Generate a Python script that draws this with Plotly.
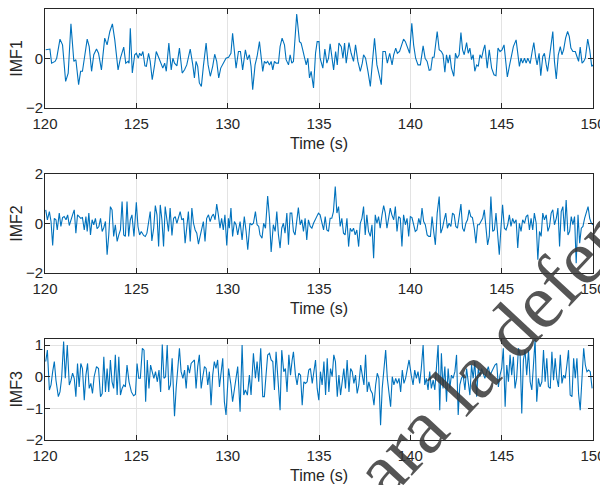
import plotly.graph_objects as go
from plotly.subplots import make_subplots

# ---------------- data ----------------
t1 = [120.04, 120.27, 120.36, 120.55, 120.64, 120.82, 120.96, 121.13, 121.27, 121.42, 121.58, 121.69, 121.84, 121.95,
      122.05, 122.24, 122.31, 122.42, 122.55, 122.67, 122.82, 122.93, 123.09, 123.27, 123.40, 123.55, 123.69, 123.82,
      124.00, 124.13, 124.31, 124.42, 124.55, 124.60, 124.67, 124.78, 124.91, 125.00, 125.11, 125.18, 125.27, 125.36,
      125.47, 125.55, 125.67, 125.76, 125.87, 126.00, 126.09, 126.24, 126.33, 126.45, 126.55, 126.64, 126.78, 126.91,
      127.00, 127.09, 127.22, 127.36, 127.51, 127.64, 127.76, 127.95, 128.09, 128.18, 128.27, 128.36, 128.45, 128.56,
      128.67, 128.82, 128.93, 129.05, 129.18, 129.29, 129.40, 129.51, 129.62, 129.76, 129.91, 130.05, 130.18, 130.27,
      130.37, 130.46, 130.59, 130.70, 130.82, 130.97, 131.08, 131.19, 131.28, 131.37, 131.50, 131.61, 131.74, 131.83,
      131.92, 132.01, 132.10, 132.19, 132.29, 132.38, 132.47, 132.56, 132.65, 132.78, 132.87, 132.98, 133.11, 133.20,
      133.33, 133.42, 133.51, 133.60, 133.78, 133.93, 134.02, 134.11, 134.20, 134.30, 134.39, 134.48, 134.57, 134.70,
      134.81, 134.90, 135.00, 135.06, 135.21, 135.32, 135.43, 135.52, 135.61, 135.72, 135.80, 135.91, 136.00, 136.09,
      136.22, 136.31, 136.40, 136.49, 136.64, 136.76, 136.89, 137.00, 137.13, 137.26, 137.37, 137.44, 137.55, 137.68,
      137.81, 137.92, 138.04, 138.17, 138.28, 138.41, 138.50, 138.63, 138.74, 138.87, 139.00, 139.09, 139.20, 139.29,
      139.41, 139.51, 139.63, 139.73, 139.84, 139.96, 140.08, 140.18, 140.29, 140.42, 140.55, 140.70, 140.81, 140.92,
      141.03, 141.12, 141.21, 141.30, 141.47, 141.58, 141.70, 141.79, 141.89, 141.98, 142.07, 142.16, 142.25, 142.38,
      142.47, 142.56, 142.67, 142.77, 142.86, 142.95, 143.08, 143.17, 143.26, 143.35, 143.44, 143.53, 143.63, 143.72,
      143.81, 143.90, 144.00, 144.08, 144.21, 144.32, 144.45, 144.58, 144.69, 144.80, 144.91, 145.02, 145.13, 145.24,
      145.31, 145.42, 145.55, 145.64, 145.79, 145.88, 145.97, 146.06, 146.15, 146.25, 146.34, 146.43, 146.56, 146.67,
      146.76, 146.87, 146.94, 147.05, 147.14, 147.25, 147.34, 147.44, 147.51, 147.62, 147.69, 147.80, 147.89, 147.99,
      148.10, 148.21, 148.30, 148.39, 148.50, 148.61, 148.70, 148.79, 148.90, 149.03, 149.12, 149.21, 149.30, 149.40,
      149.49, 149.58, 149.71, 149.82, 149.93, 150.00]
imf1 = [0.35, 0.38, -0.19, -0.12, 0.01, 0.78, 0.55, -0.93, -0.59, 1.40, -0.12, -0.05, -1.06, -0.52,
        -0.52, 0.55, 0.78, 0.48, -0.52, 0.15, 0.38, 0.21, -0.46, 0.82, 0.55, 1.09, 1.40, 0.75,
        -0.46, 0.01, 0.46, -0.19, -0.12, -0.19, 1.22, -0.59, 0.15, 0.21, 0.01, 0.21, 0.11, 0.28,
        -0.30, -0.32, 0.21, -0.12, -0.86, -0.26, 0.28, 0.01, -0.19, -0.39, -0.19, -0.52, 0.62, -0.46,
        0.01, -0.19, -0.30, 0.42, -0.59, -0.46, -0.26, 0.38, -0.26, -0.79, -0.12, -0.32, -0.99, -1.13,
        -0.32, 0.62, -0.26, -0.72, -0.32, 0.17, -0.12, -0.79, -0.39, -0.19, 0.01, 0.05, 0.21, 1.02,
        0.15, -0.39, 0.28, 0.28, -0.46, 0.35, -0.05, 0.15, -0.32, -1.26, -0.26, 0.08, 0.68, 0.08,
        -0.52, -0.12, -0.19, -0.12, -0.26, -0.12, -0.46, -0.12, -0.19, -0.19, 0.48, 0.82, 0.55, -0.05,
        -0.26, 0.15, -0.19, -0.12, 1.80, 0.68, 0.62, 0.35, 0.08, -0.26, 0.01, -0.79, -0.52, -1.19,
        0.21, 0.68, 0.68, 0.01, -0.39, 0.38, -0.19, 0.01, 0.59, -0.12, -0.46, 0.28, -0.26, 0.62,
        0.48, 0.01, 0.62, -0.19, 0.64, 0.21, -0.12, 0.55, -0.12, -0.52, -0.19, 0.15, 0.01, -0.52,
        -1.13, -0.19, 0.82, -0.26, -0.66, -1.06, 0.28, 0.28, -0.19, 0.21, -0.26, 0.15, 0.42, 0.21,
        0.28, 0.48, 0.78, 0.68, 0.48, 0.21, 1.42, 0.55, 0.01, -0.26, -0.26, 0.51, 0.01, -0.12,
        -0.48, -0.46, 0.05, 0.05, 1.09, 0.35, 0.28, 0.15, -0.56, 0.15, -0.19, 0.15, -0.39, -0.72,
        0.21, 0.01, 0.15, 1.05, 0.35, 0.15, 0.64, 0.21, 0.42, -0.05, 0.15, -0.52, -0.26, -0.32,
        0.15, 0.01, 0.35, 0.55, -0.39, 0.35, -0.39, -0.66, -0.70, 0.42, 0.28, 0.35, 0.55, -0.19,
        -0.75, -0.32, 0.08, 0.48, 0.75, 0.15, -0.32, 0.01, -0.19, 0.01, -0.19, 0.01, -0.21, 0.28,
        0.64, 0.01, -0.26, 0.21, -0.70, 0.08, 0.21, -0.26, -0.52, 0.08, 0.55, 1.09, -0.12, -0.83,
        0.15, 0.48, 0.15, 0.35, 0.82, 1.09, 0.89, 0.42, 0.28, 0.28, 0.08, -0.12, 0.46, -0.19,
        -0.12, 0.01, 0.78, 0.35, -0.32, -0.26]

t2 = [120.04, 120.13, 120.24, 120.33, 120.42, 120.51, 120.60, 120.67, 120.78, 120.87, 120.96, 121.05, 121.15, 121.24,
      121.33, 121.42, 121.51, 121.60, 121.69, 121.78, 121.87, 121.96, 122.05, 122.15, 122.24, 122.31, 122.40, 122.49,
      122.58, 122.67, 122.76, 122.85, 122.95, 123.04, 123.13, 123.22, 123.31, 123.40, 123.49, 123.58, 123.67, 123.76,
      123.85, 123.95, 124.04, 124.13, 124.22, 124.31, 124.40, 124.49, 124.58, 124.67, 124.76, 124.87, 125.00, 125.09,
      125.18, 125.27, 125.40, 125.49, 125.58, 125.67, 125.76, 125.85, 125.95, 126.04, 126.13, 126.22, 126.31, 126.40,
      126.49, 126.58, 126.67, 126.76, 126.85, 126.95, 127.04, 127.13, 127.22, 127.31, 127.40, 127.49, 127.58, 127.67,
      127.76, 127.85, 127.95, 128.04, 128.13, 128.22, 128.31, 128.40, 128.49, 128.58, 128.67, 128.76, 128.85, 128.95,
      129.04, 129.13, 129.22, 129.31, 129.40, 129.49, 129.58, 129.67, 129.76, 129.85, 129.95, 130.04, 130.09, 130.18,
      130.27, 130.37, 130.46, 130.55, 130.68, 130.79, 130.91, 131.01, 131.10, 131.22, 131.32, 131.41, 131.52, 131.61,
      131.70, 131.77, 131.88, 131.97, 132.07, 132.19, 132.29, 132.38, 132.50, 132.60, 132.69, 132.78, 132.87, 132.96,
      133.05, 133.14, 133.24, 133.33, 133.42, 133.51, 133.60, 133.69, 133.78, 133.87, 133.97, 134.06, 134.15, 134.24,
      134.33, 134.42, 134.52, 134.61, 134.70, 134.79, 134.88, 134.97, 135.06, 135.16, 135.25, 135.34, 135.43, 135.52,
      135.61, 135.70, 135.79, 135.89, 135.98, 136.07, 136.16, 136.25, 136.34, 136.43, 136.53, 136.62, 136.71, 136.80,
      136.89, 136.98, 137.07, 137.17, 137.26, 137.35, 137.44, 137.53, 137.62, 137.71, 137.81, 137.90, 137.99, 138.08,
      138.17, 138.26, 138.35, 138.45, 138.54, 138.63, 138.72, 138.81, 138.90, 138.99, 139.09, 139.18, 139.27, 139.36,
      139.45, 139.54, 139.63, 139.73, 139.82, 139.91, 140.00, 140.09, 140.18, 140.27, 140.36, 140.46, 140.55, 140.64,
      140.73, 140.82, 140.92, 141.01, 141.10, 141.19, 141.28, 141.37, 141.47, 141.58, 141.67, 141.76, 141.85, 141.94,
      142.03, 142.12, 142.22, 142.31, 142.40, 142.49, 142.58, 142.67, 142.77, 142.86, 142.95, 143.04, 143.13, 143.22,
      143.31, 143.40, 143.50, 143.59, 143.68, 143.77, 143.86, 143.96, 144.05, 144.14, 144.23, 144.32, 144.41, 144.51,
      144.60, 144.69, 144.78, 144.87, 144.96, 145.05, 145.15, 145.24, 145.33, 145.42, 145.51, 145.60, 145.69, 145.79,
      145.88, 145.97, 146.06, 146.15, 146.25, 146.34, 146.43, 146.52, 146.61, 146.70, 146.79, 146.89, 146.98, 147.07,
      147.16, 147.25, 147.34, 147.44, 147.53, 147.62, 147.71, 147.80, 147.89, 147.99, 148.08, 148.17, 148.26, 148.35,
      148.44, 148.53, 148.63, 148.72, 148.81, 148.90, 148.99, 149.08, 149.18, 149.27, 149.36, 149.45, 149.54, 149.63,
      149.73, 149.82, 149.91, 150.00]
imf2 = [0.55, 0.15, 0.48, 0.08, -0.89, 0.21, 0.15, -0.26, 0.42, -0.12, 0.24, 0.28, 0.15, 0.35,
        -0.08, 0.19, 0.35, 0.55, -0.39, 0.35, 0.28, 0.21, 0.24, -0.26, 0.28, -0.32, 0.42, -0.46,
        0.15, -0.05, 0.21, -0.21, -0.12, 0.21, -0.32, -0.16, 0.08, -1.26, -0.46, 0.68, 0.55, -0.52,
        -0.05, -0.72, -0.46, -0.26, 0.89, -0.46, -0.52, 0.89, -0.52, 0.15, 0.35, -0.52, 0.86, -0.12,
        -0.46, -0.32, -0.48, -0.52, -0.39, 0.01, 0.48, -0.70, -0.19, 0.72, 0.35, -0.93, 0.75, 0.15,
        -0.93, 0.68, 0.21, -0.32, 0.62, -0.48, 0.21, 0.28, 0.01, 0.21, 0.48, 0.15, 0.21, -0.79,
        0.01, 0.48, -0.72, 0.62, 0.01, -0.26, -0.39, -0.83, -0.52, -0.26, 0.08, -0.72, 0.21, 0.35,
        0.08, 0.28, 0.38, 0.15, 0.78, 0.35, -0.19, 0.21, -0.26, 0.35, -0.89, 0.21, -0.19, 0.62,
        -0.52, 0.08, -0.05, -0.46, 0.08, -0.66, 0.28, -0.32, -1.06, 0.01, -0.05, 0.01, 0.48, -0.05,
        -0.12, -0.46, -0.59, 0.01, -0.19, 1.11, 0.21, -1.15, -0.05, -0.32, 0.48, -0.46, -0.99, -0.19,
        0.01, -0.39, 0.42, -0.86, 0.42, 0.42, -0.32, -0.46, 0.15, 0.64, -0.05, 0.15, -0.32, 0.21,
        -0.66, 0.15, -0.12, -0.19, 0.01, 0.15, 0.28, 0.42, 0.35, 0.01, -0.26, 0.28, -0.26, -0.32,
        0.21, 0.21, 0.48, 1.49, 0.42, 0.68, -0.12, 0.21, -0.39, -0.46, 0.21, -0.93, -0.19, -0.32,
        -0.19, -0.46, -0.26, -0.93, 0.01, 0.21, 0.68, -0.46, 0.35, -0.32, -0.52, -0.05, -1.40, 0.35,
        0.01, 0.28, -0.19, 0.35, 0.72, 0.42, -0.19, 0.21, 0.62, 0.35, 0.15, 0.68, -0.32, 0.28,
        0.21, -0.93, 0.35, -0.05, 0.21, -0.52, 0.28, 0.24, 0.01, -0.32, -0.26, 0.21, -0.05, 0.62,
        0.08, -0.05, -0.46, -0.52, -0.52, 0.28, -0.32, -0.86, 0.42, 1.09, -0.39, -0.19, 0.15, 0.42,
        -0.19, 0.01, -0.12, 0.42, 0.35, -0.12, -0.19, 0.35, 0.78, -0.19, -0.32, 0.01, 0.15, 0.55,
        0.28, 0.24, -0.19, -0.79, -0.05, -0.05, 0.08, 0.21, 0.55, -0.12, -0.86, -0.52, 1.09, -0.32,
        -0.26, 0.42, -0.32, -1.26, -0.19, 0.75, -0.19, -0.26, -0.05, 0.35, -0.12, 0.21, 0.01, 0.15,
        -0.99, 0.01, -0.32, 0.15, 0.01, 0.28, 0.35, -0.26, 0.21, -0.26, 0.42, 0.01, -1.46, -0.32,
        -0.52, 0.42, 0.15, 0.35, -0.32, -0.12, 0.42, 0.55, -0.05, 0.21, 0.62, -0.93, 0.48, 0.68,
        -0.32, 0.95, -0.46, -0.32, 0.28, -0.05, 0.28, -1.60, 0.35, -0.79, -0.19, -0.12, 0.21, 0.42,
        0.68, 0.21, 0.01, -0.05]

t3 = [120.04, 120.13, 120.24, 120.33, 120.42, 120.51, 120.60, 120.73, 120.82, 120.91, 121.02, 121.11, 121.22, 121.33,
      121.42, 121.51, 121.60, 121.69, 121.78, 121.87, 121.96, 122.05, 122.15, 122.24, 122.33, 122.42, 122.51, 122.60,
      122.69, 122.82, 122.93, 123.04, 123.13, 123.22, 123.31, 123.40, 123.49, 123.58, 123.67, 123.76, 123.85, 123.95,
      124.04, 124.13, 124.22, 124.31, 124.40, 124.49, 124.60, 124.73, 124.85, 124.95, 125.04, 125.13, 125.22, 125.33,
      125.42, 125.51, 125.60, 125.69, 125.78, 125.87, 125.96, 126.05, 126.15, 126.24, 126.33, 126.42, 126.51, 126.60,
      126.69, 126.78, 126.87, 126.96, 127.09, 127.18, 127.27, 127.36, 127.45, 127.55, 127.64, 127.73, 127.82, 127.91,
      128.00, 128.09, 128.18, 128.27, 128.36, 128.45, 128.55, 128.64, 128.73, 128.82, 128.91, 129.00, 129.09, 129.18,
      129.27, 129.36, 129.45, 129.55, 129.64, 129.73, 129.82, 129.91, 130.05, 130.18, 130.27, 130.40, 130.55, 130.68,
      130.79, 130.88, 130.97, 131.08, 131.19, 131.28, 131.41, 131.52, 131.61, 131.70, 131.81, 131.92, 132.01, 132.10,
      132.19, 132.29, 132.38, 132.47, 132.56, 132.65, 132.76, 132.87, 132.96, 133.07, 133.16, 133.25, 133.35, 133.44,
      133.53, 133.60, 133.71, 133.80, 133.89, 133.99, 134.08, 134.17, 134.26, 134.35, 134.44, 134.53, 134.63, 134.72,
      134.81, 134.90, 134.99, 135.08, 135.17, 135.27, 135.36, 135.45, 135.54, 135.63, 135.72, 135.81, 135.90, 136.00,
      136.09, 136.18, 136.27, 136.36, 136.45, 136.54, 136.64, 136.73, 136.82, 136.91, 137.00, 137.09, 137.18, 137.28,
      137.37, 137.46, 137.55, 137.64, 137.73, 137.82, 137.92, 138.01, 138.10, 138.19, 138.28, 138.37, 138.46, 138.56,
      138.65, 138.74, 138.83, 138.92, 139.01, 139.10, 139.20, 139.29, 139.38, 139.47, 139.56, 139.65, 139.74, 139.84,
      139.93, 140.05, 140.15, 140.24, 140.33, 140.42, 140.51, 140.60, 140.70, 140.79, 140.88, 140.97, 141.06, 141.15,
      141.25, 141.34, 141.43, 141.52, 141.61, 141.70, 141.79, 141.89, 141.98, 142.07, 142.16, 142.25, 142.34, 142.44,
      142.53, 142.62, 142.71, 142.80, 142.89, 142.99, 143.08, 143.17, 143.26, 143.35, 143.44, 143.53, 143.63, 143.72,
      143.81, 143.90, 144.00, 144.08, 144.18, 144.27, 144.36, 144.45, 144.54, 144.63, 144.73, 144.82, 144.91, 145.00,
      145.09, 145.19, 145.28, 145.37, 145.46, 145.55, 145.64, 145.73, 145.82, 145.92, 146.01, 146.10, 146.19, 146.28,
      146.37, 146.47, 146.56, 146.65, 146.74, 146.83, 146.92, 147.01, 147.10, 147.20, 147.29, 147.38, 147.47, 147.56,
      147.66, 147.75, 147.84, 147.93, 148.02, 148.11, 148.21, 148.30, 148.39, 148.48, 148.57, 148.66, 148.75, 148.85,
      148.94, 149.03, 149.12, 149.21, 149.30, 149.40, 149.49, 149.58, 149.67, 149.76, 149.85, 149.95]
imf3 = [0.48, 0.84, -0.42, -0.26, 0.16, 0.48, -0.11, -0.63, -0.48, -0.05, 1.11, -0.05, 1.00, -0.26,
        -0.11, 0.11, -0.05, -0.63, 0.42, -0.32, 0.42, 0.26, -0.74, 0.05, 0.42, -0.37, -0.21, -0.53,
        0.00, 0.32, 0.26, -0.63, -0.53, 0.63, -0.48, 0.26, -0.48, 0.53, -0.16, -0.37, 0.69, -0.58,
        0.63, -0.58, -0.37, -0.26, -0.32, 0.37, -0.16, -0.48, -0.60, -0.56, 0.42, -0.05, -0.05, 0.90,
        0.84, -0.79, 0.53, -0.37, 0.37, 0.16, -0.05, 0.16, -0.16, 0.21, -0.48, 1.02, -0.05, 0.00,
        1.00, -0.42, -0.26, 0.58, -1.25, -0.37, 0.16, 0.90, 0.16, -0.05, 0.21, -0.37, 0.37, 0.11,
        0.42, 0.48, 0.53, -0.37, 0.32, 0.69, -0.37, 0.00, 0.32, 0.26, -0.26, 0.16, -0.90, 0.05,
        0.48, 0.26, 0.53, -0.32, 0.05, 0.58, -0.79, -1.21, 0.26, -0.26, -0.79, -0.26, 0.32, -1.11,
        1.00, -0.58, -0.42, -0.58, 0.05, -0.58, 0.74, -0.05, 0.48, -0.16, 0.90, -0.63, -0.63, 0.05,
        0.69, 0.74, 0.53, 0.48, -0.42, 0.79, -0.16, -1.06, 0.84, 0.16, 0.26, -0.48, 0.69, 0.05,
        0.53, 0.79, 0.05, -0.26, 0.11, 0.05, -0.90, -0.16, -0.21, -0.16, 0.21, 0.26, -0.21, 0.21,
        0.53, -0.37, -0.74, 0.16, -0.26, 0.48, -0.58, 0.58, -0.48, 0.26, 0.00, 0.69, 0.48, -0.63,
        0.05, -0.58, -0.05, 0.26, -0.37, 0.53, -0.48, 0.26, 0.16, -0.21, 0.05, -0.53, -0.26, 0.37,
        0.05, -0.26, 0.69, -0.48, -0.16, -0.42, -0.53, -0.90, -0.26, 0.11, -0.05, -1.53, -0.37, 0.26,
        0.84, -0.05, -0.48, -0.95, 0.00, -0.26, -0.05, -0.21, -0.05, -0.48, 0.21, -0.21, -0.05, 0.26,
        0.53, 0.05, -0.26, 0.21, -0.05, 0.16, -0.21, 0.26, 1.00, -0.26, -0.05, -0.42, 0.16, -0.37,
        -0.11, -0.42, 0.21, 1.00, -1.06, 0.74, -0.37, 0.32, -0.79, 0.26, -0.37, 0.05, -0.05, 0.16,
        0.69, -1.21, -0.26, -0.05, 0.05, -0.42, 0.26, -0.16, -0.58, 0.37, -0.05, 0.48, -0.63, 0.26,
        0.00, 0.26, 0.11, -0.05, 0.16, 0.32, 0.05, 0.16, 0.26, 0.37, 0.42, -0.32, 0.05, 0.26,
        0.90, -0.95, 0.37, -0.16, 0.69, 0.05, 0.63, -0.37, -0.05, 0.90, 0.69, -1.16, 0.53, 0.84,
        0.05, 0.84, -0.16, -0.42, 0.37, 1.19, -0.79, -0.05, -0.32, -0.16, 0.84, -0.16, 0.58, -0.32,
        -0.37, 0.79, -0.11, 0.58, -0.05, -0.32, 0.69, -0.21, 0.05, -0.05, 0.37, 0.84, -0.58, -0.63,
        0.58, -0.05, 0.58, -0.53, -1.06, 0.16, 0.90, 0.37, 0.16, 0.21, 0.16, -0.37]

x_ticks = [120, 125, 130, 135, 140, 145, 150]
y_ticks_12 = [-2, 0, 2]
y_ticks_3 = [-2, -1, 0, 1]
y_labels = ["IMF1", "IMF2", "IMF3"]
x_label = "Time (s)"
watermark = "para la defensa"

# ---------------- figure ----------------
LINE = "#0072BD"
AX = "#262626"
GRID = "#e3e3e3"
FONT = "Arial, Liberation Sans, sans-serif"

fig = make_subplots(rows=3, cols=1)
for i, (t, v) in enumerate([(t1, imf1), (t2, imf2), (t3, imf3)], start=1):
    fig.add_trace(go.Scatter(x=t, y=v, mode="lines", line=dict(color=LINE, width=1.1),
                             hoverinfo="skip"), row=i, col=1)

domains = [[0.7705, 1.0], [0.3872, 0.6174], [0.0, 0.2349]]
yranges = [[-2, 2], [-2, 2], [-2, 1.2]]
yticks = [y_ticks_12, y_ticks_12, y_ticks_3]

common = dict(showline=True, linecolor=AX, linewidth=1, mirror="ticks",
              ticks="inside", ticklen=5, tickcolor=AX, tickwidth=1,
              showgrid=True, gridcolor=GRID, gridwidth=1, zeroline=False,
              automargin=False,
              tickfont=dict(family=FONT, size=15, color=AX))

for i in range(3):
    fig.update_xaxes(range=[120, 150], tickvals=x_ticks, row=i + 1, col=1,
                     ticklabelstandoff=2,
                     title=dict(text=x_label, font=dict(family=FONT, size=16, color=AX), standoff=6),
                     **common)
    fig.update_yaxes(range=yranges[i], tickvals=yticks[i], domain=domains[i], row=i + 1, col=1,
                     ticklabelstandoff=-2,
                     title=dict(text=y_labels[i], font=dict(family=FONT, size=16, color=AX), standoff=0),
                     **common)

fig.add_annotation(text=watermark, xref="paper", yref="paper", x=0.832, y=0.228,
                   xanchor="center", yanchor="middle", showarrow=False, textangle=-47,
                   font=dict(family="Liberation Serif, Times New Roman, serif", size=78,
                             color="rgba(55,55,55,0.85)"))

# the page body adds an 8 px margin, so the figure is 8 px smaller on each axis
fig.update_layout(width=600, height=477, margin=dict(l=37, r=15, t=1, b=45),
                  paper_bgcolor="white", plot_bgcolor="white", showlegend=False)

fig.write_html("out.html")
